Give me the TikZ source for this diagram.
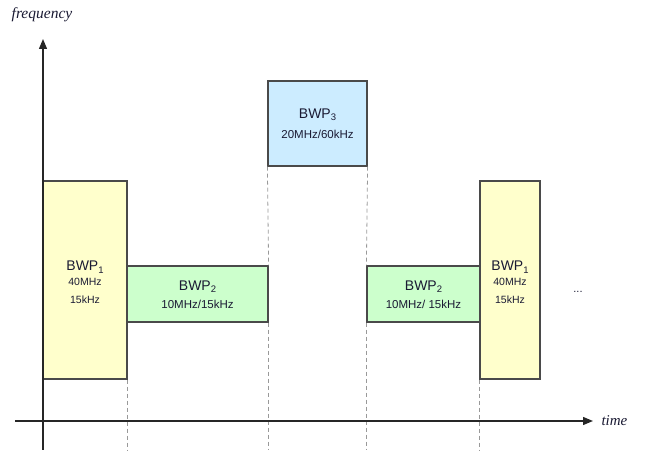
\documentclass[tikz,border=0pt]{standalone}
\usepackage{fontspec}
\setmainfont{Liberation Sans}
\newfontfamily\axisfont{Liberation Serif}
\usetikzlibrary{arrows.meta}
\definecolor{bwpyellow}{HTML}{FFFFCC}
\definecolor{bwpgreen}{HTML}{CCFFCC}
\definecolor{bwpblue}{HTML}{CCECFF}
\definecolor{bwpedge}{HTML}{4A4A4A}
\definecolor{bwptext}{HTML}{1A1A33}
\newcommand{\bwpsub}[1]{\raisebox{-0.35ex}{\fontsize{9.5}{10}\selectfont #1}}
\newcommand{\bwpsmall}{\fontsize{11.5}{12}\selectfont}
\newcommand{\bwptiny}{\fontsize{10.5}{11}\selectfont}

\begin{document}
\begin{tikzpicture}[x=1pt,y=-1pt]

  % Styles
  \tikzstyle{axe} = [-{Triangle[length=10pt,width=8pt]}, line width=1.3pt, black!85]
  \tikzstyle{guide} = [dashed, dash pattern=on 4pt off 3pt, gray!80, line width=0.8pt]
  \tikzstyle{bwpbox} = [draw=bwpedge, line width=1.2pt, inner sep=0pt]
  \tikzstyle{bwplabel} = [text=bwptext, align=center, font=\fontsize{14}{15}\selectfont]

  \useasboundingbox (0,0) rectangle (649,457);

  % Axes
  \coordinate (xstart) at (15,421);
  \coordinate (xend) at (593,421);
  \coordinate (ystart) at (43,450);
  \coordinate (yend) at (43,39);
  \coordinate (floor) at (0,450);

  % Boxes
  \node[bwpbox, fill=bwpyellow, minimum width=84pt, minimum height=198pt] (bwpA) at (85,280) {};
  \node[bwpbox, fill=bwpgreen, minimum width=141pt, minimum height=56pt] (bwpB) at (197.5,294) {};
  \node[bwpbox, fill=bwpblue, minimum width=99pt, minimum height=85pt] (bwpC) at (317.5,123.5) {};
  \node[bwpbox, fill=bwpgreen, minimum width=113pt, minimum height=56pt] (bwpD) at (423.5,294) {};
  \node[bwpbox, fill=bwpyellow, minimum width=60pt, minimum height=198pt] (bwpE) at (510,280) {};

  % Lignes pointillees
  \draw[guide] (bwpA.south east) -- (bwpA.south east |- floor);
  \draw[guide] (bwpC.south west) -- (bwpB.north east);
  \draw[guide] (bwpB.south east) -- (bwpB.south east |- floor);
  \draw[guide] (bwpC.south east) -- (bwpD.north west);
  \draw[guide] (bwpD.south west) -- (bwpD.south west |- floor);
  \draw[guide] (bwpE.south west) -- (bwpE.south west |- floor);

  \draw[axe] (xstart) -- (xend);
  \draw[axe] (ystart) -- (yend);

  % Textes
  \node[bwplabel] (labA) at (85,282.5) {BWP\bwpsub{1}\\[0pt]\bwptiny 40MHz\\[3pt]\bwptiny 15kHz};
  \node[bwplabel] (labB) at (197.5,294.5) {BWP\bwpsub{2}\\[3pt]\bwpsmall 10MHz/15kHz};
  \node[bwplabel] (labC) at (317.5,123.5) {BWP\bwpsub{3}\\[5pt]\bwpsmall 20MHz/60kHz};
  \node[bwplabel] (labD) at (423.5,294.5) {BWP\bwpsub{2}\\[3pt]\bwpsmall 10MHz/ 15kHz};
  \node[bwplabel] (labE) at (510,282.5) {BWP\bwpsub{1}\\[0pt]\bwptiny 40MHz\\[3pt]\bwptiny 15kHz};
  \node[text=bwptext, font=\fontsize{11}{12}\selectfont] (dots) at (578,292) {...};

  \node[font=\axisfont\itshape\fontsize{15.5}{16}\selectfont, text=bwptext] (freq) at (42,15) {frequency};
  \node[font=\axisfont\itshape\fontsize{15}{16}\selectfont, text=bwptext, anchor=west] (temps) at (598,421) {time};

\end{tikzpicture}
\end{document}
